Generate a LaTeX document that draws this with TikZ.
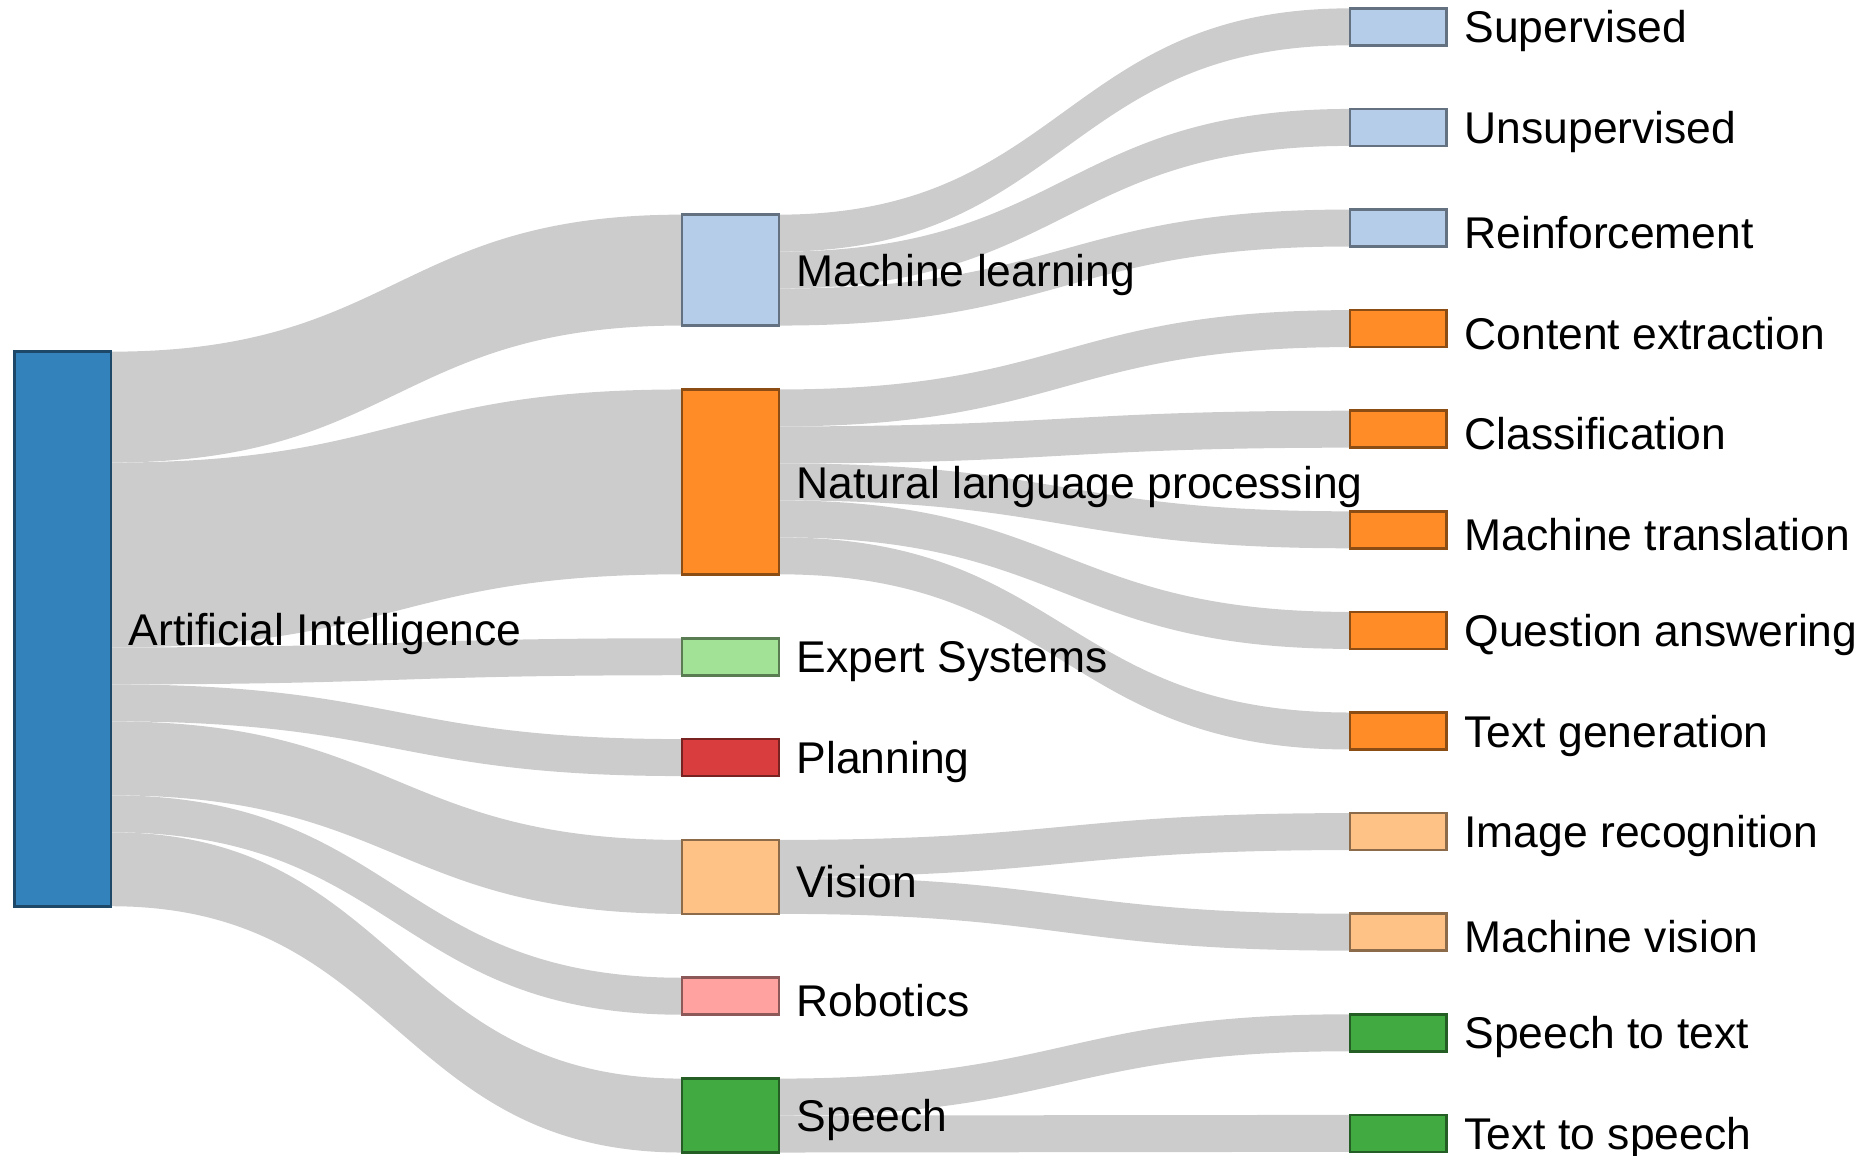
\documentclass[tikz,border=0pt]{standalone}
\usepackage{fontspec}
\setmainfont{Liberation Sans}
\usetikzlibrary{calc,positioning,backgrounds}
\definecolor{aiblue}{RGB}{52,130,188}
\definecolor{mlblue}{RGB}{182,205,234}
\definecolor{nlporange}{RGB}{255,140,38}
\definecolor{expgreen}{RGB}{162,226,150}
\definecolor{planred}{RGB}{218,61,62}
\definecolor{visorange}{RGB}{255,194,134}
\definecolor{robpink}{RGB}{255,162,160}
\definecolor{spgreen}{RGB}{65,170,65}
\tikzset{
		sbar/.style={draw=#1!55!black, fill=#1, line width=0.6pt, minimum width=0.81cm, inner sep=0pt, outer sep=0pt},
		units/.style={minimum height=#1*0.31cm},
		txt/.style={inner sep=0pt, outer sep=0pt, anchor=west, yshift=-1.1pt, font=\fontsize{10.6pt}{12pt}\selectfont},
		linkfill/.style={fill=black!20},
		}
% source, offset in source, target, offset in target, width (all in units)
\newcommand{\sflow}[5]{%
	\fill[linkfill] let \p1=($(#1.north east)+(0,#2*31)$), \p2=($(#3.north west)+(0,#4*31)$),
		\p3=($(#1.north east)+(0,{(#2+#5)*31})$), \p4=($(#3.north west)+(0,{(#4+#5)*31})$) in
		(\p1) .. controls ({(\x1+\x2)/2},\y1) and ({(\x1+\x2)/2},\y2) .. (\p2)
		-- (\p4) .. controls ({(\x3+\x4)/2},\y4) and ({(\x3+\x4)/2},\y3) .. (\p3) -- cycle;}
\begin{document}
\begin{tikzpicture}[x=0.01cm,y=-0.01cm]
					\useasboundingbox (0,0) rectangle (1568,969);
					%NODES first column
					\node[sbar=aiblue, units=15](ai) at (52.5,527.5){};
					%NODES second column
					\node[sbar=mlblue, units=3](ml) at (612.5,226.5){};
					\node[sbar=nlporange, units=5](nlp)[below=0.535cm of ml]{};
					\node[sbar=expgreen, units=1](exp)[below=0.535cm of nlp]{};
					\node[sbar=planred, units=1](plan)[below=0.535cm of exp]{};
					\node[sbar=visorange, units=2](vis)[below=0.535cm of plan]{};
					\node[sbar=robpink, units=1](rob)[below=0.535cm of vis]{};
					\node[sbar=spgreen, units=2](sp)[below=0.535cm of rob]{};
					%NODES third column
					\node[sbar=mlblue, units=1](sup) at (1172.5,22.5){};
					\node[sbar=mlblue, units=1](unsup)[below=0.533cm of sup]{};
					\node[sbar=mlblue, units=1](rein)[below=0.533cm of unsup]{};
					\node[sbar=nlporange, units=1](ce)[below=0.533cm of rein]{};
					\node[sbar=nlporange, units=1](cl)[below=0.533cm of ce]{};
					\node[sbar=nlporange, units=1](mt)[below=0.533cm of cl]{};
					\node[sbar=nlporange, units=1](qa)[below=0.533cm of mt]{};
					\node[sbar=nlporange, units=1](tg)[below=0.533cm of qa]{};
					\node[sbar=visorange, units=1](ir)[below=0.533cm of tg]{};
					\node[sbar=visorange, units=1](mv)[below=0.533cm of ir]{};
					\node[sbar=spgreen, units=1](stt)[below=0.533cm of mv]{};
					\node[sbar=spgreen, units=1](tts)[below=0.533cm of stt]{};
					%FLOWS
					\begin{scope}[on background layer]
					\sflow{ai}{0}{ml}{0}{3}
					\sflow{ai}{3}{nlp}{0}{5}
					\sflow{ai}{8}{exp}{0}{1}
					\sflow{ai}{9}{plan}{0}{1}
					\sflow{ai}{10}{vis}{0}{2}
					\sflow{ai}{12}{rob}{0}{1}
					\sflow{ai}{13}{sp}{0}{2}
					\sflow{ml}{0}{sup}{0}{1}
					\sflow{ml}{1}{unsup}{0}{1}
					\sflow{ml}{2}{rein}{0}{1}
					\sflow{nlp}{0}{ce}{0}{1}
					\sflow{nlp}{1}{cl}{0}{1}
					\sflow{nlp}{2}{mt}{0}{1}
					\sflow{nlp}{3}{qa}{0}{1}
					\sflow{nlp}{4}{tg}{0}{1}
					\sflow{vis}{0}{ir}{0}{1}
					\sflow{vis}{1}{mv}{0}{1}
					\sflow{sp}{0}{stt}{0}{1}
					\sflow{sp}{1}{tts}{0}{1}
					\end{scope}
					%LABELS
					\node[txt, right=0.15cm of ai](aitxt){Artificial Intelligence};
					\node[txt, right=0.15cm of ml](mltxt){Machine learning};
					\node[txt, right=0.15cm of nlp](nlptxt){Natural language processing};
					\node[txt, right=0.15cm of exp](exptxt){Expert Systems};
					\node[txt, right=0.15cm of plan](plantxt){Planning};
					\node[txt, right=0.15cm of vis](vistxt){Vision};
					\node[txt, right=0.15cm of rob](robtxt){Robotics};
					\node[txt, right=0.15cm of sp](sptxt){Speech};
					\node[txt, right=0.15cm of sup](suptxt){Supervised};
					\node[txt, right=0.15cm of unsup](unsuptxt){Unsupervised};
					\node[txt, right=0.15cm of rein](reintxt){Reinforcement};
					\node[txt, right=0.15cm of ce](cetxt){Content extraction};
					\node[txt, right=0.15cm of cl](cltxt){Classification};
					\node[txt, right=0.15cm of mt](mttxt){Machine translation};
					\node[txt, right=0.15cm of qa](qatxt){Question answering};
					\node[txt, right=0.15cm of tg](tgtxt){Text generation};
					\node[txt, right=0.15cm of ir](irtxt){Image recognition};
					\node[txt, right=0.15cm of mv](mvtxt){Machine vision};
					\node[txt, right=0.15cm of stt](stttxt){Speech to text};
					\node[txt, right=0.15cm of tts](ttstxt){Text to speech};
				\end{tikzpicture}
\end{document}
